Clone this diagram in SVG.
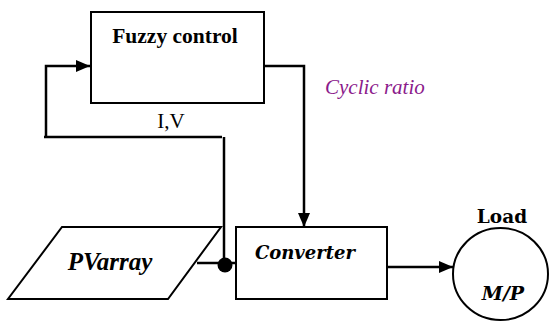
<svg xmlns="http://www.w3.org/2000/svg" width="550" height="323" viewBox="0 0 550 323">
<defs>
<marker id="ah" viewBox="0 0 14 12" refX="14" refY="6" markerWidth="14" markerHeight="12" markerUnits="userSpaceOnUse" orient="auto">
<path d="M0,0 L14,6 L0,12 Z" fill="#000"/>
</marker>
</defs>
<style>
.shape{fill:#fff;stroke:#000;stroke-width:2}
.line{fill:none;stroke:#000;stroke-width:2.5}
</style>
<g id="connectors">
<polyline class="line" points="44,137 222,137"/>
<polyline class="line" points="46,137 46,66 90,66" marker-end="url(#ah)"/>
<polyline class="line" points="224,137 224,265"/>
<polyline class="line" points="264,66 304,66 304,227" marker-end="url(#ah)"/>
<polyline class="line" points="197,263 236,263"/>
<polyline class="line" points="387,267 453,267" marker-end="url(#ah)"/>
<circle cx="225" cy="265" r="7.5" fill="#000"/>
<text font-family="Liberation Serif, serif" x="171" y="128" font-size="21" text-anchor="middle">I,V</text>
<text font-family="Liberation Serif, serif" x="325" y="94" font-size="21" font-style="italic" fill="#8B1A8B">Cyclic ratio</text>
</g>
<g id="fuzzy">
<rect class="shape" x="91" y="12" width="173" height="91"/>
<text font-family="Liberation Serif, serif" x="175" y="43" font-size="21.5" font-weight="bold" text-anchor="middle">Fuzzy control</text>
</g>
<g id="pvarray">
<polygon class="shape" points="62,227 221,227 168,299 8,299"/>
<text font-family="Liberation Serif, serif" x="110" y="270" font-size="25" font-weight="bold" font-style="italic" text-anchor="middle">PVarray</text>
</g>
<g id="converter">
<rect class="shape" x="236" y="227" width="151" height="72"/>
<text font-family="DejaVu Serif, serif" font-weight="bold" x="305" y="259" font-size="18" font-style="italic" text-anchor="middle">Converter</text>
</g>
<g id="load">
<ellipse class="shape" cx="500.5" cy="274" rx="47.5" ry="46"/>
<text font-family="DejaVu Serif, serif" font-weight="bold" x="502" y="223" font-size="18.5" text-anchor="middle">Load</text>
<text font-family="DejaVu Serif, serif" font-weight="bold" x="503" y="300" font-size="19" font-style="italic" text-anchor="middle">M/P</text>
</g>
</svg>
